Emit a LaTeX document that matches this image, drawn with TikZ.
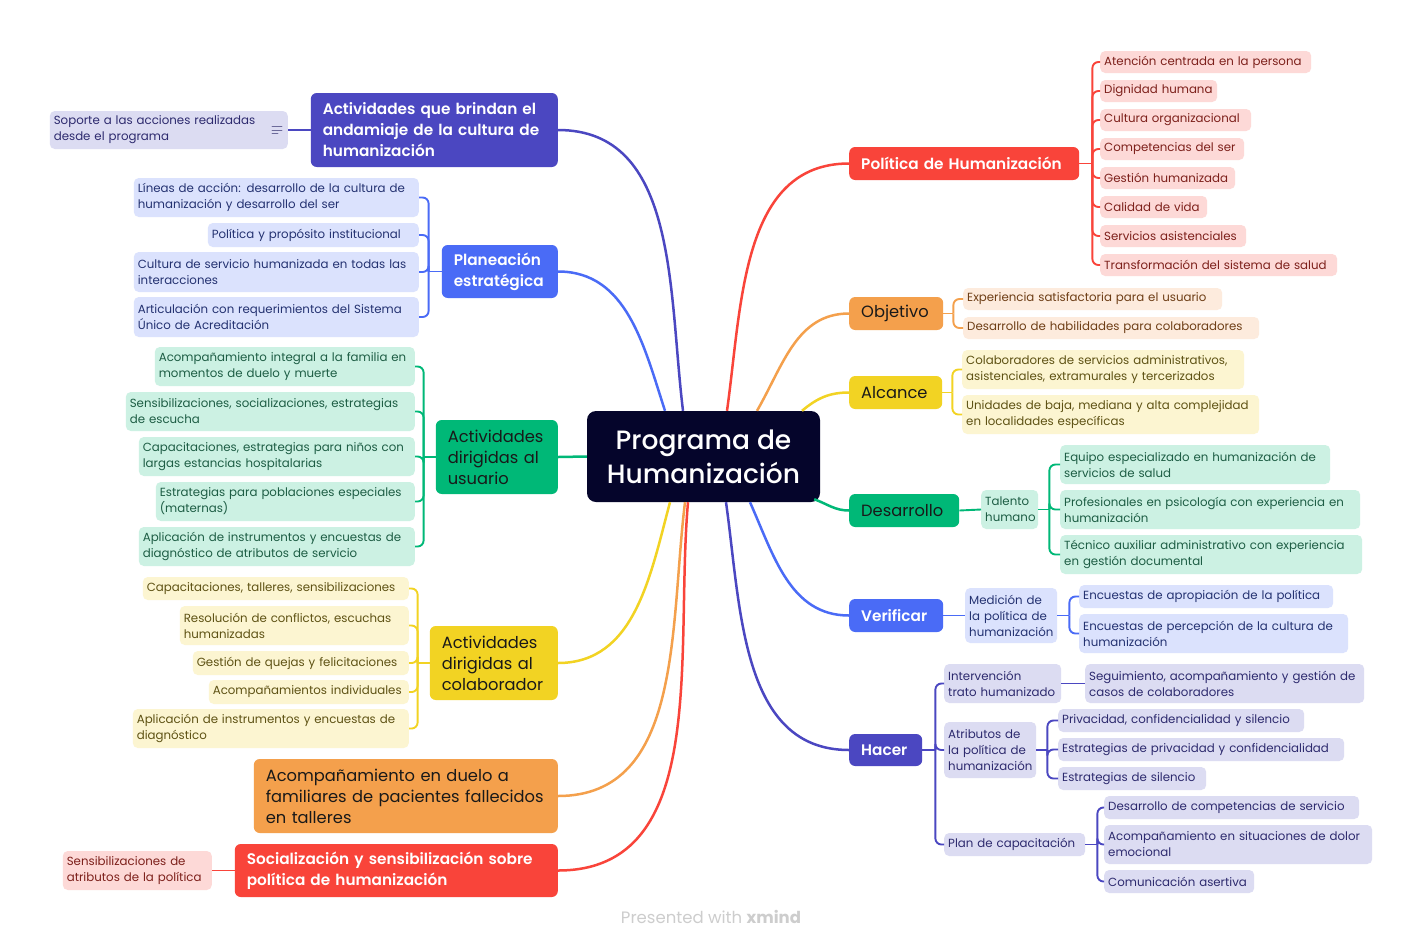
\documentclass[tikz,border=0pt]{standalone}
\usepackage{fontspec}
\setmainfont{Poppins}
\newfontfamily\rootfont{Poppins Medium}
\newfontfamily\hotfont{Poppins SemiBold}
\usetikzlibrary{positioning,calc}
\definecolor{rootc}{HTML}{05052B}
\definecolor{indc}{HTML}{4B47C1}
\definecolor{indL}{HTML}{DCDCF2}
\definecolor{indT}{HTML}{2D2A6E}
\definecolor{bluc}{HTML}{4A6BF6}
\definecolor{bluL}{HTML}{DBE2FD}
\definecolor{bluT}{HTML}{243271}
\definecolor{grnc}{HTML}{00B877}
\definecolor{grnL}{HTML}{CCF1E3}
\definecolor{grnT}{HTML}{1D5D44}
\definecolor{yelc}{HTML}{F2D323}
\definecolor{yelL}{HTML}{FCF5D1}
\definecolor{yelT}{HTML}{5E5214}
\definecolor{orgc}{HTML}{F4A04C}
\definecolor{orgL}{HTML}{FDEBDD}
\definecolor{orgT}{HTML}{6E3E16}
\definecolor{redc}{HTML}{F9443A}
\definecolor{redL}{HTML}{FDD9D7}
\definecolor{redT}{HTML}{7D201B}
\definecolor{wmark}{HTML}{CDCDCD}

\begin{document}
\begin{tikzpicture}[x=1pt, y=-1pt,
  root/.style={fill=rootc, text=white, rounded corners=9pt, minimum width=233pt,
               minimum height=91pt, inner sep=0pt, align=center,
               font=\rootfont\fontsize{26.5}{34}\selectfont},
  topic/.style 2 args={rounded corners=6pt, inner xsep=12pt, inner ysep=0pt,
               text width=#1, minimum height=#2, align=left, text=black!90,
               font=\fontsize{16.3}{21}\selectfont},
  hot/.style={text=white, font=\hotfont\fontsize{15.3}{21}\selectfont},
  leaf/.style 2 args={rounded corners=5pt, inner xsep=4pt, inner ysep=0pt,
               text width=#1, minimum height=#2, align=left,
               font=\fontsize{11.8}{16}\selectfont},
  lfind/.style={fill=indL, text=indT},
  lfblu/.style={fill=bluL, text=bluT},
  lfgrn/.style={fill=grnL, text=grnT},
  lfyel/.style={fill=yelL, text=yelT},
  lforg/.style={fill=orgL, text=orgT},
  lfred/.style={fill=redL, text=redT},
  main/.style={line width=2.5pt},
  brk/.style={line width=1.9pt, rounded corners=6pt},
]
\fill[white] (0,0) rectangle (1423,948);
\useasboundingbox (0,0) rectangle (1423,948);

% central topic
\node[root] (root) at (703.5,456.5) {Programa de\\Humanización};

% left main topics
\node[topic={223}{74}, fill=indc, hot, anchor=east] (act) at (558,130)
  {Actividades que brindan el\\andamiaje de la cultura de\\humanización};
\node[topic={92}{53}, fill=bluc, hot, anchor=east] (pla) at (558,271.5)
  {Planeación\\estratégica};
\node[topic={98}{74}, fill=grnc, anchor=east] (usu) at (558,457)
  {Actividades\\dirigidas al\\usuario};
\node[topic={104}{74}, fill=yelc, anchor=east] (col) at (558,663)
  {Actividades\\dirigidas al\\colaborador};
\node[topic={280}{74}, fill=orgc, anchor=east] (due) at (558,796)
  {Acompañamiento en duelo a\\familiares de pacientes fallecidos\\en talleres};
\node[topic={299}{53}, fill=redc, hot, anchor=east] (soc) at (558,870.5)
  {Socialización y sensibilización sobre\\política de humanización};

% right main topics
\node[topic={206}{33}, fill=redc, hot, anchor=west] (pol) at (849,163.5) {Política de Humanización};
\node[topic={70}{33}, fill=orgc, anchor=west] (obj) at (849,313.5) {Objetivo};
\node[topic={69}{33}, fill=yelc, anchor=west] (alc) at (849,392.5) {Alcance};
\node[topic={86}{33}, fill=grnc, anchor=west] (des) at (849,510.5) {Desarrollo};
\node[topic={70}{33}, fill=bluc, hot, anchor=west] (ver) at (849,615.5) {Verificar};
\node[topic={49}{32}, fill=indc, hot, anchor=west] (hac) at (849,750) {Hacer};

% main branches
\draw[main, indc] ($(root.north)+(-20.5,0)$) to[out=97, in=0] (act.east);
\draw[main, bluc] ($(root.north)+(-38.5,0)$) to[out=108, in=0] (pla.east);
\draw[main, grnc] (root.west) -- (usu.east);
\draw[main, yelc] ($(root.south)+(-33.5,0)$) to[out=-105, in=0] (col.east);
\draw[main, orgc] ($(root.south)+(-18.5,0)$) to[out=-97, in=0] (due.east);
\draw[main, redc] ($(root.south)+(-15.5,0)$) to[out=-95, in=0] (soc.east);
\draw[main, redc] ($(root.north)+(23.5,0)$) to[out=82, in=180] (pol.west);
\draw[main, orgc] ($(root.north)+(53.5,0)$) to[out=60, in=180] (obj.west);
\draw[main, yelc] ($(root.north)+(98.5,0)$) to[out=40, in=180] (alc.west);
\draw[main, grnc] ($(root.south east)+(-6,-3)$) to[out=-20, in=180] (des.west);
\draw[main, bluc] ($(root.south)+(46.5,0)$) to[out=-66, in=180] (ver.west);
\draw[main, indc] ($(root.south)+(22.5,0)$) to[out=-82, in=180] (hac.west);

% Actividades que brindan
\node[leaf={230}{38}, lfind, anchor=east] (sop) at (288,130)
  {Soporte a las acciones realizadas\\desde el programa};
\draw[line width=0.9pt, indT!70, line cap=round]
  ($(sop.east)+(-16,-3.5)$) -- ++(10,0)
  ($(sop.east)+(-16,0)$) -- ++(10,0)
  ($(sop.east)+(-16,3.5)$) -- ++(6,0);
\draw[brk, indc] (act.west) -- (sop.east);

% Planeacion
\node[leaf={277}{39}, lfblu, anchor=east] (pl1) at (419,197.5)
  {Líneas de acción: desarrollo de la cultura de\\humanización y desarrollo del ser};
\node[leaf={203}{24}, lfblu, anchor=east] (pl2) at (419,235) {Política y propósito institucional};
\node[leaf={277}{40}, lfblu, anchor=east] (pl3) at (419,272)
  {Cultura de servicio humanizada en todas las\\interacciones};
\node[leaf={277}{40}, lfblu, anchor=east] (pl4) at (419,317)
  {Articulación con requerimientos del Sistema\\Único de Acreditación};
\coordinate (pla-j) at ($(pla.west)+(-13,0)$);
\draw[brk, bluc] (pla.west) -- (pla-j);
\foreach \n in {pl1,pl2,pl3,pl4} \draw[brk, bluc] (pla-j) |- (\n.east);

% Actividades dirigidas al usuario
\node[leaf={252}{39}, lfgrn, anchor=east] (us1) at (415,366.5)
  {Acompañamiento integral a la familia en\\momentos de duelo y muerte};
\node[leaf={281}{39}, lfgrn, anchor=east] (us2) at (415,411.5)
  {Sensibilizaciones, socializaciones, estrategias\\de escucha};
\node[leaf={268}{39}, lfgrn, anchor=east] (us3) at (415,456.5)
  {Capacitaciones, estrategias para niños con\\largas estancias hospitalarias};
\node[leaf={251}{39}, lfgrn, anchor=east] (us4) at (415,501.5)
  {Estrategias para poblaciones especiales\\(maternas)};
\node[leaf={268}{39}, lfgrn, anchor=east] (us5) at (415,546.5)
  {Aplicación de instrumentos y encuestas de\\diagnóstico de atributos de servicio};
\coordinate (usu-j) at ($(usu.west)+(-12,0)$);
\draw[brk, grnc] (usu.west) -- (usu-j);
\foreach \n in {us1,us2,us3,us4,us5} \draw[brk, grnc] (usu-j) |- (\n.east);

% Actividades dirigidas al colaborador
\node[leaf={258}{23}, lfyel, anchor=east] (co1) at (409,588.5) {Capacitaciones, talleres, sensibilizaciones};
\node[leaf={221}{39}, lfyel, anchor=east] (co2) at (409,625.5)
  {Resolución de conflictos, escuchas\\humanizadas};
\node[leaf={208}{24}, lfyel, anchor=east] (co3) at (409,663) {Gestión de quejas y felicitaciones};
\node[leaf={192}{24}, lfyel, anchor=east] (co4) at (409,692) {Acompañamientos individuales};
\node[leaf={268}{39}, lfyel, anchor=east] (co5) at (409,728.5)
  {Aplicación de instrumentos y encuestas de\\diagnóstico};
\coordinate (col-j) at ($(col.west)+(-12,0)$);
\draw[brk, yelc] (col.west) -- (col-j);
\foreach \n in {co1,co2,co3,co4,co5} \draw[brk, yelc] (col-j) |- (\n.east);

% Socializacion
\node[leaf={141}{39}, lfred, anchor=east] (sen) at (212,870.5)
  {Sensibilizaciones de\\atributos de la política};
\draw[brk, redc] (soc.west) -- (sen.east);

% Politica de Humanizacion
\node[leaf={203}{22}, lfred, anchor=west] (po1) at (1100,62) {Atención centrada en la persona};
\node[leaf={109}{22}, lfred, anchor=west] (po2) at (1100,91) {Dignidad humana};
\node[leaf={143}{22}, lfred, anchor=west] (po3) at (1100,120) {Cultura organizacional};
\node[leaf={136}{22}, lfred, anchor=west] (po4) at (1100,149) {Competencias del ser};
\node[leaf={127}{22}, lfred, anchor=west] (po5) at (1100,178) {Gestión humanizada};
\node[leaf={99}{22}, lfred, anchor=west] (po6) at (1100,207) {Calidad de vida};
\node[leaf={138}{22}, lfred, anchor=west] (po7) at (1100,236) {Servicios asistenciales};
\node[leaf={229}{22}, lfred, anchor=west] (po8) at (1100,265) {Transformación del sistema de salud};
\coordinate (pol-j) at ($(pol.east)+(13,0)$);
\draw[brk, redc] (pol.east) -- (pol-j);
\foreach \n in {po1,po2,po3,po4,po5,po6,po7,po8} \draw[brk, redc] (pol-j) |- (\n.west);

% Objetivo
\node[leaf={251}{22}, lforg, anchor=west] (ob1) at (963,299) {Experiencia satisfactoria para el usuario};
\node[leaf={288}{22}, lforg, anchor=west] (ob2) at (963,328) {Desarrollo de habilidades para colaboradores};
\coordinate (obj-j) at ($(obj.east)+(10,0)$);
\draw[brk, orgc] (obj.east) -- (obj-j);
\foreach \n in {ob1,ob2} \draw[brk, orgc] (obj-j) |- (\n.west);

% Alcance
\node[leaf={274}{39}, lfyel, anchor=west] (al1) at (962,369.5)
  {Colaboradores de servicios administrativos,\\asistenciales, extramurales y tercerizados};
\node[leaf={289}{39}, lfyel, anchor=west] (al2) at (962,414.5)
  {Unidades de baja, mediana y alta complejidad\\en localidades específicas};
\coordinate (alc-j) at ($(alc.east)+(10,0)$);
\draw[brk, yelc] (alc.east) -- (alc-j);
\foreach \n in {al1,al2} \draw[brk, yelc] (alc-j) |- (\n.west);

% Desarrollo
\node[leaf={49}{39}, lfgrn, anchor=west] (tal) at (981,509.5) {Talento\\humano};
\draw[brk, grnc] (des.east) -- (tal.west);
\node[leaf={262}{39}, lfgrn, anchor=west] (de1) at (1060,464.5)
  {Equipo especializado en humanización de\\servicios de salud};
\node[leaf={292}{39}, lfgrn, anchor=west] (de2) at (1060,509.5)
  {Profesionales en psicología con experiencia en\\humanización};
\node[leaf={294}{39}, lfgrn, anchor=west] (de3) at (1060,554.5)
  {Técnico auxiliar administrativo con experiencia\\en gestión documental};
\coordinate (tal-j) at ($(tal.east)+(11,0)$);
\draw[brk, grnc] (tal.east) -- (tal-j);
\foreach \n in {de1,de2,de3} \draw[brk, grnc] (tal-j) |- (\n.west);

% Verificar
\node[leaf={84}{55}, lfblu, anchor=west] (med) at (965,615.5)
  {Medición de\\la política de\\humanización};
\draw[brk, bluc] (ver.east) -- (med.west);
\node[leaf={246}{23}, lfblu, anchor=west] (ve1) at (1079,596.5) {Encuestas de apropiación de la política};
\node[leaf={261}{39}, lfblu, anchor=west] (ve2) at (1079,633.5)
  {Encuestas de percepción de la cultura de\\humanización};
\coordinate (med-j) at ($(med.east)+(12,0)$);
\draw[brk, bluc] (med.east) -- (med-j);
\foreach \n in {ve1,ve2} \draw[brk, bluc] (med-j) |- (\n.west);

% Hacer
\node[leaf={109}{39}, lfind, anchor=west] (ha1) at (944,683.5) {Intervención\\trato humanizado};
\node[leaf={84}{56}, lfind, anchor=west] (ha2) at (944,750) {Atributos de\\la política de\\humanización};
\node[leaf={133}{23}, lfind, anchor=west] (ha3) at (944,844.5) {Plan de capacitación};
\coordinate (hac-j) at ($(hac.east)+(13,0)$);
\draw[brk, indc] (hac.east) -- (hac-j);
\foreach \n in {ha1,ha2,ha3} \draw[brk, indc] (hac-j) |- (\n.west);

\node[leaf={271}{39}, lfind, anchor=west] (in1) at (1085,683.5)
  {Seguimiento, acompañamiento y gestión de\\casos de colaboradores};
\draw[brk, indc] (ha1.east) -- (in1.west);

\node[leaf={238}{23}, lfind, anchor=west] (at1) at (1058,720.5) {Privacidad, confidencialidad y silencio};
\node[leaf={278}{23}, lfind, anchor=west] (at2) at (1058,749.5) {Estrategias de privacidad y confidencialidad};
\node[leaf={140}{23}, lfind, anchor=west] (at3) at (1058,778.5) {Estrategias de silencio};
\coordinate (ha2-j) at ($(ha2.east)+(11,0)$);
\draw[brk, indc] (ha2.east) -- (ha2-j);
\foreach \n in {at1,at2,at3} \draw[brk, indc] (ha2-j) |- (\n.west);

\node[leaf={247}{23}, lfind, anchor=west] (pc1) at (1104,807.5) {Desarrollo de competencias de servicio};
\node[leaf={260}{39}, lfind, anchor=west] (pc2) at (1104,844.5)
  {Acompañamiento en situaciones de dolor\\emocional};
\node[leaf={142}{23}, lfind, anchor=west] (pc3) at (1104,881.5) {Comunicación asertiva};
\coordinate (ha3-j) at ($(ha3.east)+(12,0)$);
\draw[brk, indc] (ha3.east) -- (ha3-j);
\foreach \n in {pc1,pc2,pc3} \draw[brk, indc] (ha3-j) |- (\n.west);

% watermark
\node[text=wmark, font=\fontsize{16.5}{20}\selectfont] (wm) at (711,917)
  {Presented with \textbf{xmind}};
\end{tikzpicture}
\end{document}
